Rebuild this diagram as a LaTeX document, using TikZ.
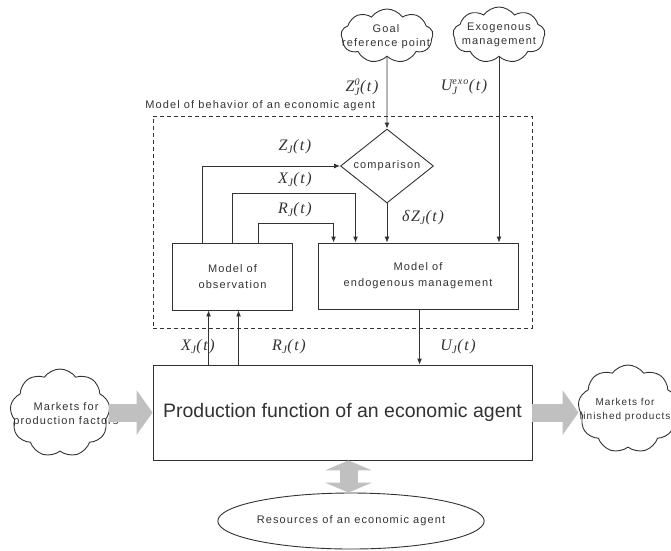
\documentclass[tikz,border=0pt]{standalone}
\usepackage{fontspec}
\setmainfont{Liberation Sans}
\newfontfamily\lab{Liberation Sans}[LetterSpace=10]
\newfontfamily\tms{Liberation Serif}[LetterSpace=10]
\usetikzlibrary{shapes.geometric,shapes.symbols,arrows.meta}
\newcommand\supsub[2]{$^{\hbox{\fontsize{10}{10}\selectfont #1}}_{\hbox{\fontsize{11}{11}\selectfont #2}}$}
\definecolor{ink}{RGB}{50,50,50}
\definecolor{bigarrow}{RGB}{192,192,192}
\begin{document}
\begin{tikzpicture}[x=1pt,y=-1pt,
  line width=0.9pt,
  every node/.style={text=ink},
  box/.style={draw=ink,rectangle,align=center,font=\lab\fontsize{11}{16}\selectfont,inner sep=0pt},
  puff/.style={draw=ink,cloud,cloud puffs=9,cloud puff arc=110,cloud ignores aspect,inner sep=0pt},
  pufftext/.style={align=center,inner sep=0pt,font=\lab\fontsize{11}{14}\selectfont},
  sig/.style={font=\tms\itshape\fontsize{16}{16}\selectfont},
  flow/.style={draw=ink,-{Latex[length=6pt,width=5pt]}},
  wide/.style={draw=bigarrow,line width=18pt},
]
\useasboundingbox (0,0) rectangle (671,550);

% outer dashed frame of the behaviour model
\node[draw=ink,dashed,dash pattern=on 4pt off 3pt,minimum width=379pt,minimum height=212pt,inner sep=0pt] (frame) at (342.5,222) {};
\node[anchor=south west,inner sep=0pt,font=\lab\fontsize{11}{11}\selectfont] (framelbl) at (145,111) {Model of behavior of an economic agent};

% blocks
\node[box,minimum width=120pt,minimum height=67pt] (obs) at (232.5,276.5) {Model of\\observation};
\node[box,minimum width=200pt,minimum height=66pt] (endo) at (418,276) {Model of\\endogenous management};
\node[box,minimum width=379pt,minimum height=95pt,font=\fontsize{19.5}{20}\selectfont] (prod) at (342.5,412.5) {Production function of an economic agent};
\node[draw=ink,diamond,aspect=1.26,minimum width=93pt,minimum height=74pt,inner sep=0pt,font=\lab\fontsize{11}{11}\selectfont] (comp) at (387,166) {comparison};

% external sources: outline first, wording on top
\node[puff,minimum width=92pt,minimum height=54pt] (goal) at (387,36) {};
\node[pufftext] (goaltxt) at (386,37) {Goal\\reference point};
\node[puff,minimum width=92pt,minimum height=56pt] (exo) at (499,35) {};
\node[pufftext] (exotxt) at (499,35) {Exogenous\\management};
\node[puff,minimum width=100pt,minimum height=88pt] (mpf) at (60,413) {};
\node[pufftext] (mpftxt) at (66,415) {Markets for\\production factors};
\node[puff,minimum width=100pt,minimum height=88pt] (mfp) at (628,409) {};
\node[pufftext,font=\lab\fontsize{10}{14}\selectfont] (mfptxt) at (625,410) {Markets for\\finished products};
\node[draw=ink,ellipse,minimum width=252pt,minimum height=56pt,inner sep=0pt,font=\lab\fontsize{11}{11}\selectfont] (res) at (351,521) {Resources of an economic agent};

% information flows
\draw[flow] (goal.south) -- (comp.north);
\draw[flow] (exo.south) -- (exo.south |- endo.north);
\draw[flow] (comp.south) -- (comp.south |- endo.north);
\draw[flow] ([xshift=30pt]obs.north west) |- (comp.west);
\draw[flow] ([xshift=60pt]obs.north west) |- +(0,-49) -| ([xshift=38pt]endo.north west);
\draw[flow] ([xshift=86pt]obs.north west) |- +(0,-19) -| ([xshift=16pt]endo.north west);
\draw[flow] ([xshift=56pt]prod.north west) -- ([xshift=56pt]prod.north west |- obs.south);
\draw[flow] ([xshift=86pt]prod.north west) -- ([xshift=86pt]prod.north west |- obs.south);
\draw[flow] ([xshift=102pt]endo.south west) -- ([xshift=102pt]endo.south west |- prod.north);

% signal labels
\node[sig] (lz0) at (362,87) {Z\supsub{0}{J}(t)};
\node[sig] (lue) at (464,87) {U\supsub{exo}{J}(t)};
\node[sig] (lz) at (295,147) {Z\textsubscript{J}(t)};
\node[sig] (lx) at (295,180) {X\textsubscript{J}(t)};
\node[sig] (lr) at (295,210) {R\textsubscript{J}(t)};
\node[sig] (ldz) at (423,218) {δZ\textsubscript{J}(t)};
\node[sig] (lxo) at (198,347) {X\textsubscript{J}(t)};
\node[sig] (lro) at (289,347) {R\textsubscript{J}(t)};
\node[sig] (luo) at (458,347) {U\textsubscript{J}(t)};

% material flows
\draw[wide,-{Triangle[length=16pt,width=44pt]}] (mpf.east |- prod.west) -- (prod.west);
\draw[wide,-{Triangle[length=16pt,width=44pt]}] (prod.east) -- (prod.east -| mfp.west);
\draw[wide,{Triangle[length=10pt,width=47pt]}-{Triangle[length=10pt,width=47pt]}]
  ([xshift=6pt]prod.south) -- ([xshift=6pt]prod.south |- res.north);
\end{tikzpicture}
\end{document}
